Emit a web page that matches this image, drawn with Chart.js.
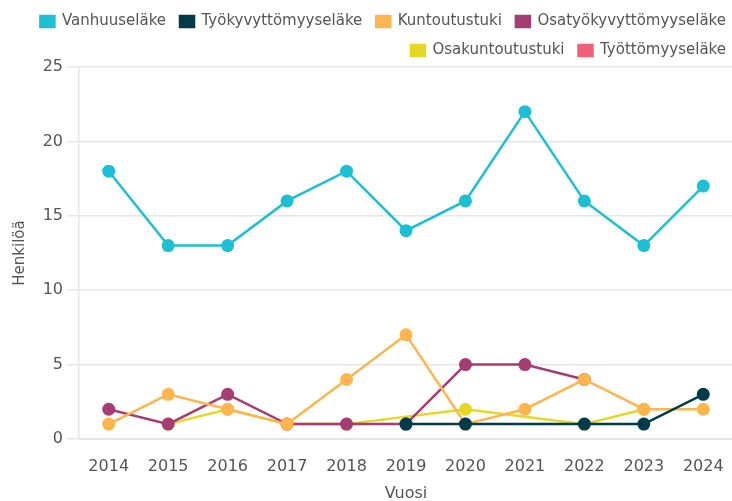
<!DOCTYPE html>
<html>
<head>
<meta charset="utf-8">
<script src="https://cdn.jsdelivr.net/npm/chart.js@4.4.1/dist/chart.umd.min.js"></script>
<style>
  html, body { margin: 0; padding: 0; background: #fff; overflow: hidden; }
  #wrap { position: relative; width: 740px; height: 501px; }
</style>
</head>
<body>
<div id="wrap"><canvas id="chart"></canvas></div>
<script>
// Years on the x axis
const years = ['2014', '2015', '2016', '2017', '2018', '2019', '2020', '2021', '2022', '2023', '2024'];

// Series values (null = no value that year)
const vanhuuselake = [18, 13, 13, 16, 18, 14, 16, 22, 16, 13, 17];
const tyokyvyttomyyselake = [null, null, null, null, null, 1, 1, null, 1, 1, 3];
const kuntoutustuki = [1, 3, 2, 1, 4, 7, 1, 2, 4, 2, 2];
const osatyokyvyttomyyselake = [2, 1, 3, 1, 1, 1, 5, 5, 4, null, null];
const osakuntoutustuki = [null, 1, 2, 1, 1, null, 2, null, 1, 2, null];
const tyottomyyselake = [null, null, null, null, null, null, null, null, null, null, null];

const yTicks = [0, 5, 10, 15, 20, 25];

function series(label, data, color) {
    return {
        label: label,
        data: data,
        borderColor: color,
        backgroundColor: color,
        borderWidth: 2.5,
        pointRadius: 6.5,
        pointHoverRadius: 7,
        pointBackgroundColor: color,
        pointBorderWidth: 0,
        tension: 0,
        spanGaps: true
    };
}

const textColor = '#555';
const gridColor = '#e6e6e6';

// legend gets a fixed height so the plot starts where it does in the original
const legendHeight = {
    id: 'legendHeight',
    afterInit(chart) {
        const legend = chart.legend;
        const origFit = legend.fit;
        legend.fit = function () {
            origFit.call(this);
            this.height = 67;
        };
        chart.update();
    }
};

new Chart(document.getElementById('chart').getContext('2d'), {
    type: 'line',
    data: {
        labels: years,
        datasets: [
            series('Vanhuuseläke', vanhuuselake, '#1cbfd4'),
            series('Työkyvyttömyyseläke', tyokyvyttomyyselake, '#003b4a'),
            series('Kuntoutustuki', kuntoutustuki, '#ffb54d'),
            series('Osatyökyvyttömyyseläke', osatyokyvyttomyyselake, '#a53d74'),
            series('Osakuntoutustuki', osakuntoutustuki, '#e5d824'),
            series('Työttömyyseläke', tyottomyyselake, '#ef6079')
        ]
    },
    options: {
        responsive: true,
        maintainAspectRatio: false,
        animation: false,
        plugins: {
            legend: {
                position: 'top',
                align: 'end',
                labels: {
                    boxWidth: 14,
                    boxHeight: 11,
                    padding: 14,
                    color: textColor,
                    font: { family: 'DejaVu Sans', size: 15 }
                }
            },
            tooltip: { enabled: true }
        },
        scales: {
            x: {
                offset: true,
                grid: { display: false },
                border: { display: true, color: gridColor },
                ticks: {
                    color: textColor,
                    padding: 10,
                    maxRotation: 0,
                    font: { family: 'DejaVu Sans', size: 16 }
                },
                title: {
                    display: true,
                    text: 'Vuosi',
                    color: textColor,
                    padding: { top: 0, bottom: -2 },
                    font: { family: 'DejaVu Sans', size: 16 }
                },
                afterFit: (scale) => { scale.height = 62; }
            },
            y: {
                min: 0,
                max: 25,
                afterBuildTicks: (scale) => {
                    scale.ticks = yTicks.map(v => ({ value: v }));
                },
                grid: {
                    color: gridColor,
                    lineWidth: 1.5,
                    tickLength: 12
                },
                border: { display: true, color: gridColor, width: 1.5 },
                ticks: {
                    color: textColor,
                    padding: 4,
                    font: { family: 'DejaVu Sans', size: 16 }
                },
                title: {
                    display: true,
                    text: 'Henkilöä',
                    color: textColor,
                    padding: { top: 11, bottom: 0 },
                    font: { family: 'DejaVu Sans', size: 15 }
                },
                afterFit: (scale) => { scale.width = 79; }
            }
        }
    },
    plugins: [legendHeight]
});
</script>
</body>
</html>
